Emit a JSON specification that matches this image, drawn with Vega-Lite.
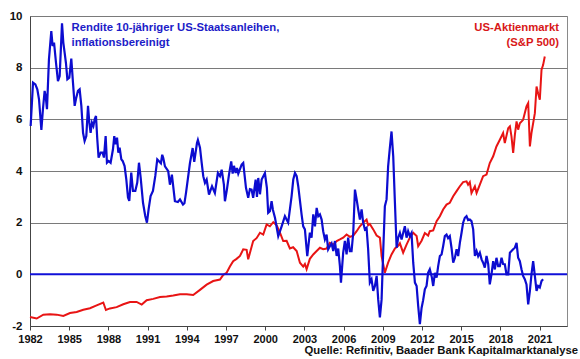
{
  "$schema": "https://vega.github.io/schema/vega-lite/v6.json",
  "width": 537,
  "height": 310,
  "autosize": {"type": "none"},
  "padding": {"left": 30, "top": 16, "right": 13, "bottom": 33},
  "background": "white",
  "title": {
    "text": "Quelle: Refinitiv, Baader Bank Kapitalmarktanalyse",
    "orient": "bottom",
    "anchor": "end",
    "font": "Liberation Sans",
    "fontSize": 11.3,
    "fontWeight": "bold",
    "color": "#111111",
    "offset": 1,
    "dx": 10
  },
  "config": {
    "view": {"stroke": "#8a8a8a", "strokeWidth": 1},
    "axis": {
      "labelFont": "Liberation Sans",
      "labelFontWeight": "bold",
      "labelFontSize": 11,
      "labelColor": "#111111",
      "domainColor": "#444444",
      "tickColor": "#444444",
      "title": null
    }
  },
  "datasets": {
    "blue": [
      {"d":1982.05,"v":5.74},{"d":1982.23,"v":7.42},{"d":1982.41,"v":7.35},{"d":1982.56,"v":7.16},{"d":1982.69,"v":6.77},{"d":1982.87,"v":5.59},{"d":1982.99,"v":6.39},{"d":1983.12,"v":7.1},{"d":1983.2,"v":6.9},{"d":1983.3,"v":6.39},{"d":1983.45,"v":8.32},{"d":1983.63,"v":9.42},{"d":1983.73,"v":8.84},{"d":1983.84,"v":8.97},{"d":1983.99,"v":8.19},{"d":1984.14,"v":7.48},{"d":1984.27,"v":7.68},{"d":1984.45,"v":9.72},{"d":1984.55,"v":8.97},{"d":1984.65,"v":8.58},{"d":1984.75,"v":8.19},{"d":1984.86,"v":7.55},{"d":1985.01,"v":7.61},{"d":1985.16,"v":8.35},{"d":1985.29,"v":7.42},{"d":1985.42,"v":6.52},{"d":1985.54,"v":6.84},{"d":1985.67,"v":7.1},{"d":1985.8,"v":7.16},{"d":1985.93,"v":6.52},{"d":1986.06,"v":5.48},{"d":1986.18,"v":5.16},{"d":1986.31,"v":5.35},{"d":1986.44,"v":6.52},{"d":1986.54,"v":5.87},{"d":1986.64,"v":5.48},{"d":1986.74,"v":5.87},{"d":1986.85,"v":5.74},{"d":1986.95,"v":6.0},{"d":1987.05,"v":6.13},{"d":1987.15,"v":5.23},{"d":1987.25,"v":4.52},{"d":1987.41,"v":4.71},{"d":1987.56,"v":4.71},{"d":1987.66,"v":4.52},{"d":1987.79,"v":5.35},{"d":1987.89,"v":4.32},{"d":1988.02,"v":4.39},{"d":1988.17,"v":4.32},{"d":1988.35,"v":4.84},{"d":1988.45,"v":5.35},{"d":1988.55,"v":5.03},{"d":1988.66,"v":5.29},{"d":1988.76,"v":4.71},{"d":1988.86,"v":4.9},{"d":1988.99,"v":4.45},{"d":1989.09,"v":4.39},{"d":1989.24,"v":4.19},{"d":1989.37,"v":3.68},{"d":1989.5,"v":2.97},{"d":1989.6,"v":2.84},{"d":1989.75,"v":3.94},{"d":1989.88,"v":3.23},{"d":1990.06,"v":3.23},{"d":1990.21,"v":3.55},{"d":1990.34,"v":4.32},{"d":1990.47,"v":3.74},{"d":1990.65,"v":2.77},{"d":1990.82,"v":2.26},{"d":1990.95,"v":2.0},{"d":1991.08,"v":2.52},{"d":1991.23,"v":3.03},{"d":1991.41,"v":3.23},{"d":1991.59,"v":3.81},{"d":1991.74,"v":4.45},
      {"d":1992.02,"v":4.3},{"d":1992.12,"v":4.63},{"d":1992.2,"v":4.5},{"d":1992.33,"v":4.18},{"d":1992.58,"v":3.99},{"d":1992.71,"v":3.47},{"d":1992.86,"v":3.86},{"d":1993.09,"v":2.83},{"d":1993.32,"v":2.8},{"d":1993.48,"v":2.9},{"d":1993.71,"v":2.7},{"d":1993.82,"v":2.75},{"d":1993.94,"v":3.15},{"d":1994.24,"v":4.3},{"d":1994.45,"v":4.89},{"d":1994.57,"v":4.35},{"d":1994.78,"v":5.08},{"d":1994.85,"v":5.2},{"d":1995.01,"v":4.9},{"d":1995.14,"v":4.31},{"d":1995.26,"v":3.8},{"d":1995.39,"v":3.54},{"d":1995.52,"v":3.67},{"d":1995.7,"v":3.09},{"d":1995.93,"v":3.41},{"d":1996.15,"v":3.15},{"d":1996.38,"v":3.92},{"d":1996.54,"v":3.8},{"d":1996.67,"v":4.05},{"d":1996.84,"v":3.47},{"d":1996.92,"v":2.83},{"d":1997.07,"v":3.28},{"d":1997.23,"v":3.86},{"d":1997.4,"v":4.37},{"d":1997.51,"v":3.9},{"d":1997.61,"v":4.2},{"d":1997.74,"v":3.92},{"d":1997.84,"v":4.12},{"d":1997.94,"v":3.9},{"d":1998.2,"v":4.25},{"d":1998.32,"v":4.31},{"d":1998.53,"v":3.35},{"d":1998.7,"v":2.96},{"d":1998.83,"v":3.3},{"d":1998.96,"v":3.28},{"d":1999.08,"v":2.96},{"d":1999.27,"v":3.67},{"d":1999.37,"v":3.0},{"d":1999.47,"v":3.73},{"d":1999.6,"v":3.1},{"d":1999.73,"v":3.67},{"d":1999.98,"v":3.92},{"d":2000.13,"v":3.35},{"d":2000.23,"v":2.38},{"d":2000.36,"v":2.44},{"d":2000.49,"v":2.83},{"d":2000.59,"v":2.5},{"d":2000.75,"v":2.19},{"d":2001.0,"v":1.48},{"d":2001.26,"v":1.86},{"d":2001.51,"v":2.25},{"d":2001.76,"v":2.0},{"d":2002.02,"v":3.02},{"d":2002.15,"v":3.67},{"d":2002.28,"v":3.92},{"d":2002.41,"v":3.8},{"d":2002.53,"v":3.41},{"d":2002.79,"v":2.3},{"d":2002.91,"v":1.86},{"d":2003.04,"v":1.74},{"d":2003.22,"v":0.7},{"d":2003.42,"v":1.61},{"d":2003.55,"v":1.42},{"d":2003.68,"v":2.32},{"d":2003.81,"v":1.86},{"d":2003.94,"v":2.57},{"d":2004.06,"v":2.25},{"d":2004.19,"v":2.32},{"d":2004.32,"v":2.12},{"d":2004.44,"v":1.67},{"d":2004.57,"v":1.35},{"d":2004.7,"v":1.54},{"d":2004.82,"v":0.97},{"d":2004.95,"v":1.09},{"d":2005.08,"v":1.2},{"d":2005.21,"v":0.9},{"d":2005.34,"v":1.29},{"d":2005.47,"v":0.71},{"d":2005.59,"v":1.0},{"d":2005.72,"v":0.32},{"d":2005.8,"v":-0.32},{"d":2005.97,"v":0.84},{"d":2006.1,"v":1.29},{"d":2006.23,"v":0.77},{"d":2006.35,"v":1.42},{"d":2006.48,"v":0.9},{"d":2006.61,"v":0.9},{"d":2006.74,"v":1.61},{"d":2006.87,"v":3.28},{"d":2007.0,"v":2.9},{"d":2007.12,"v":2.51},{"d":2007.25,"v":2.12},{"d":2007.38,"v":2.51},{"d":2007.5,"v":2.0},{"d":2007.63,"v":1.74},{"d":2007.76,"v":1.8},{"d":2007.88,"v":0.97},{"d":2008.01,"v":-0.32},{"d":2008.14,"v":-0.19},{"d":2008.27,"v":-0.64},{"d":2008.4,"v":-0.45},{"d":2008.53,"v":-0.06},{"d":2008.65,"v":-0.97},{"d":2008.78,"v":-1.67},{"d":2008.91,"v":-0.97},{"d":2009.03,"v":0.84},{"d":2009.16,"v":2.64},{"d":2009.29,"v":2.9},{"d":2009.41,"v":4.18},{"d":2009.54,"v":4.89},{"d":2009.67,"v":5.53},{"d":2009.8,"v":4.57},{"d":2009.93,"v":2.77},{"d":2010.06,"v":1.03},{"d":2010.18,"v":1.42},{"d":2010.31,"v":1.61},{"d":2010.44,"v":1.35},{"d":2010.56,"v":1.6},{"d":2010.69,"v":1.86},{"d":2010.82,"v":1.42},{"d":2010.94,"v":1.67},{"d":2011.07,"v":1.48},{"d":2011.2,"v":1.6},{"d":2011.33,"v":0.45},{"d":2011.46,"v":-0.32},{"d":2011.59,"v":-0.45},{"d":2011.71,"v":-1.22},{"d":2011.84,"v":-1.93},{"d":2011.97,"v":-1.3},{"d":2012.09,"v":-1.0},{"d":2012.22,"v":-0.58},{"d":2012.35,"v":-0.45},{"d":2012.47,"v":0.06},{"d":2012.6,"v":0.2},{"d":2012.75,"v":-0.1},{"d":2012.86,"v":-0.45},{"d":2012.99,"v":0.06},{"d":2013.12,"v":-0.13},{"d":2013.24,"v":0.32},{"d":2013.37,"v":0.71},{"d":2013.5,"v":0.77},{"d":2013.62,"v":1.09},{"d":2013.75,"v":1.48},{"d":2013.88,"v":1.54},{"d":2014.0,"v":1.4},{"d":2014.13,"v":1.48},{"d":2014.26,"v":1.03},{"d":2014.39,"v":0.45},{"d":2014.52,"v":0.64},{"d":2014.65,"v":0.97},{"d":2014.77,"v":0.71},{"d":2014.9,"v":1.22},{"d":2015.03,"v":1.61},{"d":2015.15,"v":2.0},{"d":2015.28,"v":2.19},{"d":2015.41,"v":2.25},{"d":2015.53,"v":2.1},{"d":2015.66,"v":2.12},{"d":2015.79,"v":2.06},{"d":2015.92,"v":1.74},{"d":2016.05,"v":0.71},{"d":2016.18,"v":0.9},{"d":2016.3,"v":0.7},{"d":2016.43,"v":0.84},{"d":2016.56,"v":0.58},{"d":2016.68,"v":0.45},{"d":2016.81,"v":0.26},{"d":2016.94,"v":0.71},{"d":2017.07,"v":0.39},{"d":2017.19,"v":-0.39},{"d":2017.32,"v":0.0},{"d":2017.45,"v":0.51},{"d":2017.58,"v":0.19},{"d":2017.7,"v":0.64},{"d":2017.83,"v":0.32},{"d":2017.96,"v":0.32},{"d":2018.09,"v":0.64},{"d":2018.21,"v":0.4},{"d":2018.34,"v":0.39},{"d":2018.47,"v":0.0},{"d":2018.6,"v":0.0},{"d":2018.73,"v":0.84},{"d":2018.85,"v":0.9},{"d":2018.98,"v":0.97},{"d":2019.11,"v":1.03},{"d":2019.24,"v":1.22},{"d":2019.36,"v":0.64},{"d":2019.49,"v":0.51},{"d":2019.62,"v":0.19},{"d":2019.74,"v":-0.06},{"d":2019.87,"v":-0.19},{"d":2020.0,"v":-0.39},{"d":2020.13,"v":-1.16},{"d":2020.26,"v":-0.64},{"d":2020.38,"v":0.0},{"d":2020.51,"v":0.51},{"d":2020.64,"v":-0.06},{"d":2020.77,"v":-0.64},{"d":2020.89,"v":-0.45},{"d":2021.02,"v":-0.51},{"d":2021.15,"v":-0.26},{"d":2021.27,"v":-0.19}
    ],
    "red": [
      {"d":1982.0,"v":-1.65},{"d":1982.51,"v":-1.71},{"d":1983.02,"v":-1.56},{"d":1983.53,"v":-1.55},{"d":1984.04,"v":-1.56},{"d":1984.55,"v":-1.61},{"d":1985.06,"v":-1.5},{"d":1985.57,"v":-1.46},{"d":1986.08,"v":-1.37},{"d":1986.59,"v":-1.31},{"d":1987.1,"v":-1.2},{"d":1987.61,"v":-1.09},{"d":1987.81,"v":-1.38},{"d":1988.12,"v":-1.32},{"d":1988.63,"v":-1.27},{"d":1989.14,"v":-1.16},{"d":1989.65,"v":-1.07},{"d":1990.16,"v":-1.07},{"d":1990.55,"v":-1.17},{"d":1990.93,"v":-1.0},{"d":1991.43,"v":-0.95},{"d":1991.95,"v":-0.88},{"d":1992.46,"v":-0.86},{"d":1992.96,"v":-0.82},{"d":1993.48,"v":-0.77},{"d":1993.99,"v":-0.77},{"d":1994.49,"v":-0.8},{"d":1995.01,"v":-0.6},{"d":1995.52,"v":-0.4},{"d":1996.02,"v":-0.26},{"d":1996.54,"v":-0.2},{"d":1996.79,"v":-0.02},{"d":1997.05,"v":0.06},{"d":1997.3,"v":0.3},{"d":1997.55,"v":0.51},{"d":1997.81,"v":0.6},{"d":1998.07,"v":0.71},{"d":1998.32,"v":0.97},{"d":1998.58,"v":0.95},{"d":1998.7,"v":0.58},{"d":1999.08,"v":1.29},{"d":1999.34,"v":1.4},{"d":1999.6,"v":1.61},{"d":1999.85,"v":1.54},{"d":2000.11,"v":1.93},{"d":2000.36,"v":1.86},{"d":2000.62,"v":2.02},{"d":2000.88,"v":1.9},{"d":2001.13,"v":1.61},{"d":2001.38,"v":1.29},{"d":2001.64,"v":1.3},{"d":2001.89,"v":1.0},{"d":2002.14,"v":1.05},{"d":2002.41,"v":0.9},{"d":2002.66,"v":0.45},{"d":2002.91,"v":0.3},{"d":2003.04,"v":0.4},{"d":2003.17,"v":0.2},{"d":2003.42,"v":0.6},{"d":2003.68,"v":0.77},{"d":2003.94,"v":0.9},{"d":2004.19,"v":1.03},{"d":2004.44,"v":0.97},{"d":2004.7,"v":1.0},{"d":2004.95,"v":1.22},{"d":2005.21,"v":1.15},{"d":2005.47,"v":1.29},{"d":2005.72,"v":1.35},{"d":2005.97,"v":1.42},{"d":2006.23,"v":1.54},{"d":2006.48,"v":1.45},{"d":2006.74,"v":1.5},{"d":2007.0,"v":1.67},{"d":2007.25,"v":1.86},{"d":2007.5,"v":2.0},{"d":2007.76,"v":2.12},{"d":2007.88,"v":1.9},{"d":2008.01,"v":1.95},{"d":2008.27,"v":1.74},{"d":2008.53,"v":1.5},{"d":2008.78,"v":1.42},{"d":2008.91,"v":0.71},{"d":2009.03,"v":0.4},{"d":2009.16,"v":0.06},{"d":2009.41,"v":0.45},{"d":2009.67,"v":0.77},{"d":2009.93,"v":1.0},{"d":2010.18,"v":1.1},{"d":2010.31,"v":1.2},{"d":2010.56,"v":0.84},{"d":2010.82,"v":1.15},{"d":2011.07,"v":1.42},{"d":2011.33,"v":1.61},{"d":2011.59,"v":1.48},{"d":2011.71,"v":1.09},{"d":2011.97,"v":1.3},{"d":2012.22,"v":1.6},{"d":2012.47,"v":1.5},{"d":2012.6,"v":1.67},{"d":2012.86,"v":1.7},{"d":2013.12,"v":2.06},{"d":2013.37,"v":2.25},{"d":2013.62,"v":2.51},{"d":2013.88,"v":2.7},{"d":2014.13,"v":2.77},{"d":2014.39,"v":3.02},{"d":2014.65,"v":3.22},{"d":2014.9,"v":3.41},{"d":2015.15,"v":3.57},{"d":2015.41,"v":3.6},{"d":2015.53,"v":3.47},{"d":2015.66,"v":3.57},{"d":2015.79,"v":3.15},{"d":2016.05,"v":3.41},{"d":2016.18,"v":3.15},{"d":2016.43,"v":3.47},{"d":2016.68,"v":3.8},{"d":2016.94,"v":3.86},{"d":2017.19,"v":4.31},{"d":2017.45,"v":4.57},{"d":2017.7,"v":4.95},{"d":2017.96,"v":5.21},{"d":2018.21,"v":5.47},{"d":2018.34,"v":5.08},{"d":2018.6,"v":5.66},{"d":2018.73,"v":5.73},{"d":2018.85,"v":5.34},{"d":2018.98,"v":4.7},{"d":2019.11,"v":5.4},{"d":2019.24,"v":5.92},{"d":2019.36,"v":5.6},{"d":2019.49,"v":5.85},{"d":2019.74,"v":5.98},{"d":2020.0,"v":6.5},{"d":2020.13,"v":6.63},{"d":2020.26,"v":4.95},{"d":2020.38,"v":5.47},{"d":2020.64,"v":6.24},{"d":2020.77,"v":7.27},{"d":2020.89,"v":7.0},{"d":2021.02,"v":6.76},{"d":2021.15,"v":7.92},{"d":2021.27,"v":8.1},{"d":2021.4,"v":8.43}
    ]
  },
  "encoding": {
    "x": {
      "field": "d",
      "type": "quantitative",
      "scale": {"domain": [1982, 2023.1], "nice": false, "zero": false},
      "axis": {
        "values": [1982, 1985, 1988, 1991, 1994, 1997, 2000, 2003, 2006, 2009, 2012, 2015, 2018, 2021],
        "labelExpr": "'' + datum.value",
        "grid": false,
        "ticks": true,
        "tickSize": 4,
        "labelPadding": 3,
        "labelFlush": false,
        "labelOverlap": false
      }
    },
    "y": {
      "field": "v",
      "type": "quantitative",
      "scale": {"domain": [-2, 10], "nice": false, "zero": false},
      "axis": {
        "values": [-2, 0, 2, 4, 6, 8, 10],
        "labelExpr": "'' + datum.value",
        "grid": true,
        "gridColor": "#7a7a7a",
        "gridWidth": 1,
        "ticks": false,
        "labelPadding": 8,
        "labelFontSize": 11.5
      }
    }
  },
  "layer": [
    {
      "data": {"name": "red"},
      "mark": {"type": "line", "color": "#E81414", "strokeWidth": 2}
    },
    {
      "data": {"values": [{"v": 0}]},
      "mark": {"type": "rule", "color": "#1010D8", "strokeWidth": 2},
      "encoding": {"x": null, "y": {"field": "v", "type": "quantitative"}}
    },
    {
      "data": {"name": "blue"},
      "mark": {"type": "line", "color": "#0C0CD0", "strokeWidth": 2.2}
    },
    {
      "data": {"values": [
        {"d": 1985.18, "v": 9.52, "t": "Rendite 10-jähriger US-Staatsanleihen,"},
        {"d": 1985.18, "v": 8.97, "t": "inflationsbereinigt"}
      ]},
      "mark": {"type": "text", "align": "left", "baseline": "middle", "font": "Liberation Sans", "fontWeight": "bold", "fontSize": 11.3, "color": "#1C1CC8"},
      "encoding": {"text": {"field": "t"}}
    },
    {
      "data": {"values": [
        {"d": 2022.49, "v": 9.52, "t": "US-Aktienmarkt"},
        {"d": 2022.49, "v": 8.97, "t": "(S&P 500)"}
      ]},
      "mark": {"type": "text", "align": "right", "baseline": "middle", "font": "Liberation Sans", "fontWeight": "bold", "fontSize": 11.3, "color": "#D81818"},
      "encoding": {"text": {"field": "t"}}
    }
  ]
}
